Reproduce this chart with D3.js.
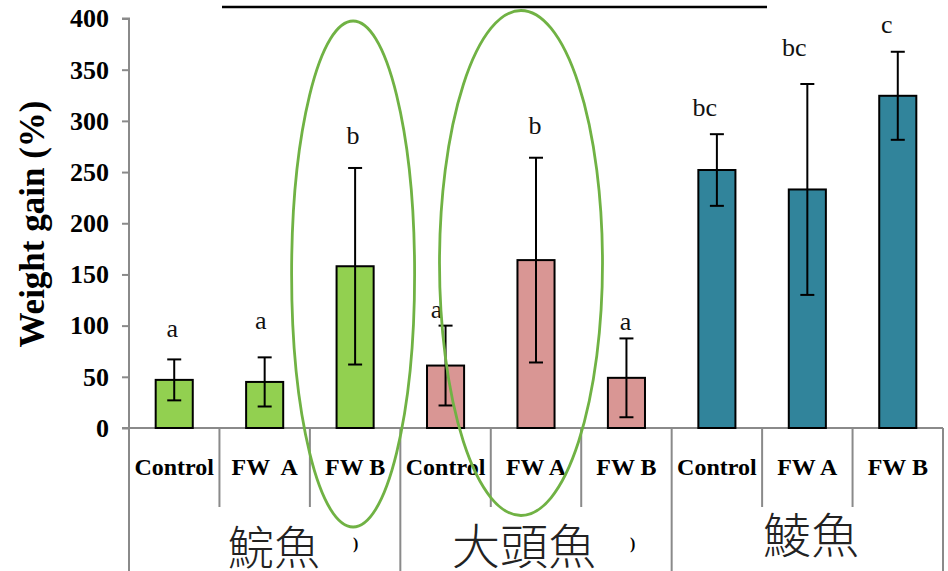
<!DOCTYPE html>
<html><head><meta charset="utf-8">
<script src="https://cdn.jsdelivr.net/npm/d3@7"></script>
<style>
html,body{margin:0;padding:0;background:#fff;}
svg{display:block;}
</style>
</head><body>
<svg id="chart" width="948" height="571"></svg>
<script>
// ---- data ----
const groups = ["鯇魚", "大頭魚", "鯪魚"];
const treatments = ["Control", "FW  A", "FW B", "Control", "FW A", "FW B", "Control", "FW A", "FW B"];
const groupOf = [0, 0, 0, 1, 1, 1, 2, 2, 2];
const means = [47, 45, 158, 61, 164, 49, 252, 233, 324.5];
const sds = [20, 24, 96, 39, 100, 38.5, 35, 103, 43];
const letters = ["a", "a", "b", "a", "b", "a", "bc", "bc", "c"];
const letterHeights = [89, 97, 277, 107, 287, 96, 305, 363, 386];
const yTicks = [0, 50, 100, 150, 200, 250, 300, 350, 400];
const groupColors = ["#92D050", "#D99694", "#31849B"];

// ---- layout ----
const svg = d3.select("#chart");
const plotL = 129, plotR = 943, plotT = 18.5, plotB = 428;
const x = d3.scaleBand().domain(d3.range(treatments.length)).range([plotL, plotR]).padding(0);
const y = d3.scaleLinear().domain([0, 400]).range([plotB, plotT]);
const barW = x.bandwidth() * 0.41;
const axisColor = "#8a8a8a";
const serif = "Liberation Serif, Times New Roman, serif";

svg.append("rect").attr("width", 948).attr("height", 571).attr("fill", "#fff");

// title underline (title itself is cropped out of frame)
svg.append("line").attr("x1", 222).attr("x2", 767).attr("y1", 7).attr("y2", 7)
  .attr("stroke", "#000").attr("stroke-width", 2.5);

// y axis
const yAxis = d3.axisLeft(y).tickValues(yTicks).tickSize(7).tickPadding(13);
const gy = svg.append("g").attr("transform", `translate(${plotL},0)`).call(yAxis);
gy.select(".domain").attr("stroke", axisColor).attr("stroke-width", 2).attr("d", `M-7,${plotT}H0V${plotB}`);
gy.selectAll(".tick line").attr("stroke", axisColor).attr("stroke-width", 2);
gy.selectAll(".tick text").attr("font-family", serif)
  .attr("font-weight", "bold").attr("font-size", 26).attr("fill", "#000");

// y label
svg.append("text").attr("transform", `translate(44,224) rotate(-90)`)
  .attr("text-anchor", "middle")
  .attr("font-family", serif).attr("font-weight", "bold")
  .attr("font-size", 35).attr("fill", "#000").text("Weight gain (%)");

// x axis line
svg.append("line").attr("x1", plotL - 7).attr("x2", plotR).attr("y1", plotB).attr("y2", plotB)
  .attr("stroke", axisColor).attr("stroke-width", 2);

// category separators
const bounds = d3.range(treatments.length + 1);
svg.selectAll("line.sep").data(bounds).join("line").attr("class", "sep")
  .attr("x1", i => i < treatments.length ? x(i) : plotR)
  .attr("x2", i => i < treatments.length ? x(i) : plotR)
  .attr("y1", plotB)
  .attr("y2", i => (i % 3 === 0) ? 571 : 507)
  .attr("stroke", axisColor).attr("stroke-width", 2);

// bars
const idx = d3.range(treatments.length);
svg.selectAll("rect.bar").data(idx).join("rect").attr("class", "bar")
  .attr("x", i => x(i) + x.bandwidth() / 2 - barW / 2)
  .attr("width", barW)
  .attr("y", i => y(means[i]))
  .attr("height", i => y(0) - y(means[i]))
  .attr("fill", i => groupColors[groupOf[i]])
  .attr("stroke", "#000").attr("stroke-width", 2);

// error bars
const cap = 7;
const eb = svg.selectAll("g.eb").data(idx).join("g").attr("class", "eb")
  .attr("stroke", "#000").attr("stroke-width", 2);
eb.append("line")
  .attr("x1", i => x(i) + x.bandwidth() / 2).attr("x2", i => x(i) + x.bandwidth() / 2)
  .attr("y1", i => y(means[i] + sds[i])).attr("y2", i => y(means[i] - sds[i]));
eb.append("line")
  .attr("x1", i => x(i) + x.bandwidth() / 2 - cap).attr("x2", i => x(i) + x.bandwidth() / 2 + cap)
  .attr("y1", i => y(means[i] + sds[i])).attr("y2", i => y(means[i] + sds[i]));
eb.append("line")
  .attr("x1", i => x(i) + x.bandwidth() / 2 - cap).attr("x2", i => x(i) + x.bandwidth() / 2 + cap)
  .attr("y1", i => y(means[i] - sds[i])).attr("y2", i => y(means[i] - sds[i]));

// significance letters
const letterShift = [-2, -4, -2, -9, -1, -1, -12, -13, -11];
svg.selectAll("text.sig").data(idx).join("text").attr("class", "sig")
  .attr("x", i => x(i) + x.bandwidth() / 2 + letterShift[i])
  .attr("y", i => y(letterHeights[i]))
  .attr("text-anchor", "middle")
  .attr("font-family", serif)
  .attr("font-size", 26).attr("fill", "#111")
  .text(i => letters[i]);

// treatment labels
svg.selectAll("text.cat").data(idx).join("text").attr("class", "cat")
  .attr("x", i => x(i) + x.bandwidth() / 2)
  .attr("y", 475)
  .attr("text-anchor", "middle")
  .attr("font-family", serif).attr("font-weight", "bold")
  .attr("font-size", 24).attr("fill", "#000")
  .style("white-space", "pre")
  .text(i => treatments[i]);

// group labels
const groupX = [274, 524, 811];
const groupBase = [564, 564, 553];
const groupSize = [46, 48, 48];
svg.selectAll("text.grp").data(groups).join("text").attr("class", "grp")
  .attr("x", (d, g) => groupX[g]).attr("y", (d, g) => groupBase[g])
  .attr("text-anchor", "middle")
  .attr("font-family", "Noto Sans CJK TC, Noto Sans CJK SC, sans-serif")
  .attr("font-weight", 300)
  .attr("font-size", (d, g) => groupSize[g]).attr("fill", "#222")
  .text(d => d);

// small leftover bracket marks
[[353, 549], [630, 549]].forEach(p => {
  svg.append("text").attr("x", p[0]).attr("y", p[1]).attr("font-family", serif)
    .attr("font-size", 16).attr("font-weight", "bold").attr("fill", "#000").text(")");
});

// highlight ellipses
const ellipses = [{g: 2, cy: 274, ry: 253, rx: 61.5}, {g: 4, cy: 263, ry: 252.5, rx: 81.5}];
svg.selectAll("ellipse.hl").data(ellipses).join("ellipse").attr("class", "hl")
  .attr("cx", d => x(d.g) + x.bandwidth() / 2 + (d.g === 2 ? -2 : -15))
  .attr("cy", d => d.cy).attr("rx", d => d.rx).attr("ry", d => d.ry)
  .attr("fill", "none").attr("stroke", "#70B244").attr("stroke-width", 2.8);
</script>
</body></html>
